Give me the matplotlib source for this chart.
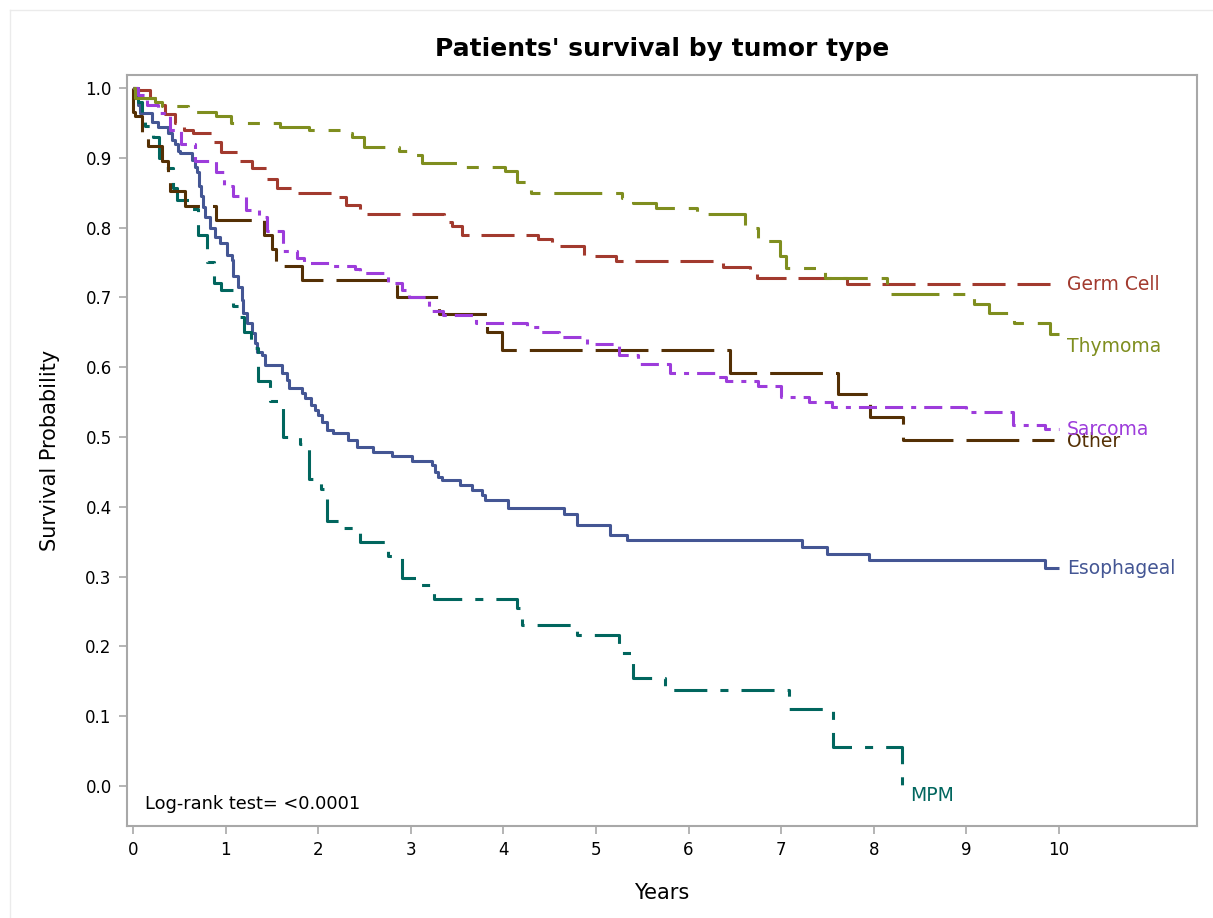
import matplotlib
matplotlib.use('Agg')
import matplotlib.pyplot as plt
from matplotlib.lines import Line2D

# Kaplan-Meier estimates (years, survival probability)
esoph_t = [0, 0.02, 0.05, 0.08, 0.2, 0.27, 0.38, 0.42, 0.45, 0.49, 0.51, 0.64, 0.67, 0.69, 0.71, 0.73, 0.76,
           0.78, 0.83, 0.885, 0.94, 1.01, 1.07, 1.08, 1.13, 1.18, 1.19, 1.23, 1.28, 1.32, 1.34, 1.39, 1.43,
           1.61, 1.66, 1.68, 1.82, 1.86, 1.92, 1.97, 2.0, 2.04, 2.1, 2.16, 2.32, 2.42, 2.59, 2.8, 3.01, 3.23,
           3.26, 3.29, 3.34, 3.53, 3.66, 3.77, 3.8, 4.05, 4.66, 4.8, 5.15, 5.34, 7.22, 7.5, 7.95, 9.85, 10.0]
esoph_s = [1.0, 0.985, 0.975, 0.964, 0.951, 0.944, 0.935, 0.925, 0.92, 0.91, 0.907, 0.897, 0.887, 0.88, 0.86,
           0.845, 0.83, 0.815, 0.80, 0.787, 0.778, 0.761, 0.754, 0.73, 0.715, 0.696, 0.678, 0.663, 0.649, 0.635,
           0.622, 0.617, 0.603, 0.592, 0.582, 0.57, 0.563, 0.556, 0.546, 0.539, 0.532, 0.522, 0.51, 0.506,
           0.496, 0.486, 0.479, 0.473, 0.466, 0.46, 0.45, 0.443, 0.438, 0.431, 0.424, 0.417, 0.41, 0.398,
           0.39, 0.374, 0.36, 0.352, 0.343, 0.333, 0.324, 0.313, 0.313]

germ_t = [0, 0.05, 0.18, 0.3, 0.35, 0.45, 0.55, 0.65, 0.85, 0.95, 1.15, 1.28, 1.45, 1.55, 1.72, 2.15, 2.3,
          2.45, 3.36, 3.45, 3.55, 4.37, 4.52, 4.6, 4.87, 5.22, 6.37, 6.66, 6.74, 7.71, 10.0]
germ_s = [1.0, 0.997, 0.985, 0.975, 0.963, 0.95, 0.94, 0.935, 0.922, 0.908, 0.896, 0.886, 0.87, 0.857, 0.849,
          0.844, 0.832, 0.82, 0.808, 0.802, 0.79, 0.784, 0.778, 0.773, 0.759, 0.752, 0.744, 0.737, 0.728,
          0.719, 0.719]

mpm_t = [0, 0.05, 0.1, 0.13, 0.22, 0.28, 0.35, 0.43, 0.47, 0.6, 0.7, 0.8, 0.87, 0.95, 1.08, 1.14, 1.2, 1.27,
         1.35, 1.48, 1.62, 1.8, 1.9, 2.03, 2.1, 2.25, 2.45, 2.75, 2.9, 3.1, 3.25, 4.15, 4.2, 4.8, 5.25, 5.4,
         5.75, 7.08, 7.56, 8.31]
mpm_s = [1.0, 0.98, 0.96, 0.945, 0.93, 0.9, 0.885, 0.857, 0.84, 0.826, 0.79, 0.75, 0.72, 0.71, 0.688, 0.672,
         0.65, 0.628, 0.58, 0.551, 0.5, 0.49, 0.44, 0.425, 0.38, 0.369, 0.35, 0.33, 0.298, 0.288, 0.268,
         0.255, 0.23, 0.217, 0.19, 0.155, 0.137, 0.11, 0.056, 0.0]

other_t = [0, 0.005, 0.02, 0.1, 0.16, 0.31, 0.38, 0.4, 0.56, 0.9, 1.42, 1.5, 1.54, 1.83, 2.85, 3.3, 3.82,
           3.98, 6.45, 7.61, 7.96, 8.32, 9.95]
other_s = [1.0, 0.965, 0.96, 0.937, 0.917, 0.895, 0.878, 0.853, 0.831, 0.811, 0.79, 0.77, 0.745, 0.725,
           0.70, 0.676, 0.65, 0.624, 0.592, 0.562, 0.529, 0.496, 0.496]

sarc_t = [0, 0.05, 0.15, 0.27, 0.4, 0.52, 0.67, 0.9, 0.98, 1.08, 1.22, 1.36, 1.45, 1.62, 1.77, 1.85, 2.15,
          2.4, 2.45, 2.75, 2.9, 2.98, 3.2, 3.35, 3.7, 4.25, 4.4, 4.6, 4.9, 5.25, 5.45, 5.8, 6.3, 6.4, 6.75,
          7.0, 7.3, 7.55, 9.0, 9.5, 9.85, 10.0]
sarc_s = [1.0, 0.99, 0.976, 0.964, 0.94, 0.92, 0.895, 0.88, 0.86, 0.845, 0.825, 0.815, 0.795, 0.766, 0.756,
          0.749, 0.745, 0.74, 0.735, 0.72, 0.71, 0.70, 0.68, 0.675, 0.664, 0.658, 0.65, 0.643, 0.633, 0.617,
          0.604, 0.592, 0.586, 0.58, 0.573, 0.557, 0.55, 0.543, 0.536, 0.517, 0.512, 0.512]

thym_t = [0, 0.02, 0.24, 0.31, 0.59, 0.9, 1.06, 1.59, 1.9, 2.26, 2.37, 2.5, 2.87, 2.96, 3.12, 3.5, 4.02,
          4.15, 4.3, 5.28, 5.4, 5.65, 6.09, 6.61, 6.75, 6.99, 7.05, 7.47, 8.14, 9.08, 9.25, 9.52, 9.9, 10.0]
thym_s = [1.0, 0.985, 0.98, 0.974, 0.965, 0.96, 0.95, 0.944, 0.94, 0.935, 0.93, 0.915, 0.91, 0.904, 0.893,
          0.887, 0.881, 0.865, 0.849, 0.843, 0.835, 0.828, 0.819, 0.80, 0.781, 0.76, 0.742, 0.728, 0.705,
          0.691, 0.677, 0.663, 0.647, 0.647]

names = ['Esophageal', 'Germ Cell', 'MPM', 'Other', 'Sarcoma', 'Thymoma']
label_y = [0.312, 0.718, -0.014, 0.494, 0.511, 0.630]

# SAS HTMLBlue graph data colours
colors = ['#445694', '#A23A2E', '#01665E', '#543005', '#9D3CDB', '#7F8E1F']
# dash patterns in points
dashes = [None, [23.8, 8.6], [23.8, 9.4, 5.8, 9.4], [38, 9.4], [13, 5.8, 13, 5.8, 3.6, 5.8],
          [34.5, 10, 8.6, 10]]

series = [(esoph_t, esoph_s), (germ_t, germ_s), (mpm_t, mpm_s), (other_t, other_s),
          (sarc_t, sarc_s), (thym_t, thym_s)]

plt.rcParams['font.family'] = 'DejaVu Sans'
plt.rcParams['lines.scale_dashes'] = False

fig = plt.figure(figsize=(12.13, 9.18), dpi=100)
ax = fig.add_axes([0.1047, 0.1002, 0.882, 0.8181])

# faint outer frame like the SAS image border
fig.add_artist(Line2D([10 / 1213, 10 / 1213], [0, 1 - 10 / 918], transform=fig.transFigure,
                      color='#EBEBEB', lw=1))
fig.add_artist(Line2D([10 / 1213, 1], [1 - 10 / 918, 1 - 10 / 918], transform=fig.transFigure,
                      color='#EBEBEB', lw=1))

for (t, s), c, d, name, ly in zip(series, colors, dashes, names, label_y):
    line, = ax.step(t, s, where='post', color=c, lw=2.2, solid_capstyle='butt', dash_capstyle='butt')
    if d is not None:
        line.set_dashes(d)
    if name == 'MPM':
        ax.text(t[-1] + 0.08, ly, name, color=c, fontsize=13.5, va='center', ha='left')
    else:
        ax.text(10.09, ly, name, color=c, fontsize=13.5, va='center', ha='left')

ax.text(0.13, -0.026, 'Log-rank test= <0.0001', fontsize=12.8, va='center', ha='left')

ax.set_xlim(-0.065, 11.49)
ax.set_ylim(-0.0573, 1.0186)
ax.set_xticks(range(0, 11))
ax.set_yticks([i / 10 for i in range(0, 11)])
ax.set_yticklabels(['%.1f' % (i / 10) for i in range(0, 11)])
ax.tick_params(direction='out', length=6, width=1.2, color='#A8A8A8', labelsize=12, pad=5)

for sp in ax.spines.values():
    sp.set_color('#A8A8A8')
    sp.set_linewidth(1.5)

ax.set_xlabel('Years', fontsize=15, labelpad=17)
ax.set_ylabel('Survival Probability', fontsize=15, labelpad=18)
ax.set_title("Patients' survival by tumor type", fontsize=18, fontweight='bold', pad=14)

fig.savefig('out.png', dpi=100)
